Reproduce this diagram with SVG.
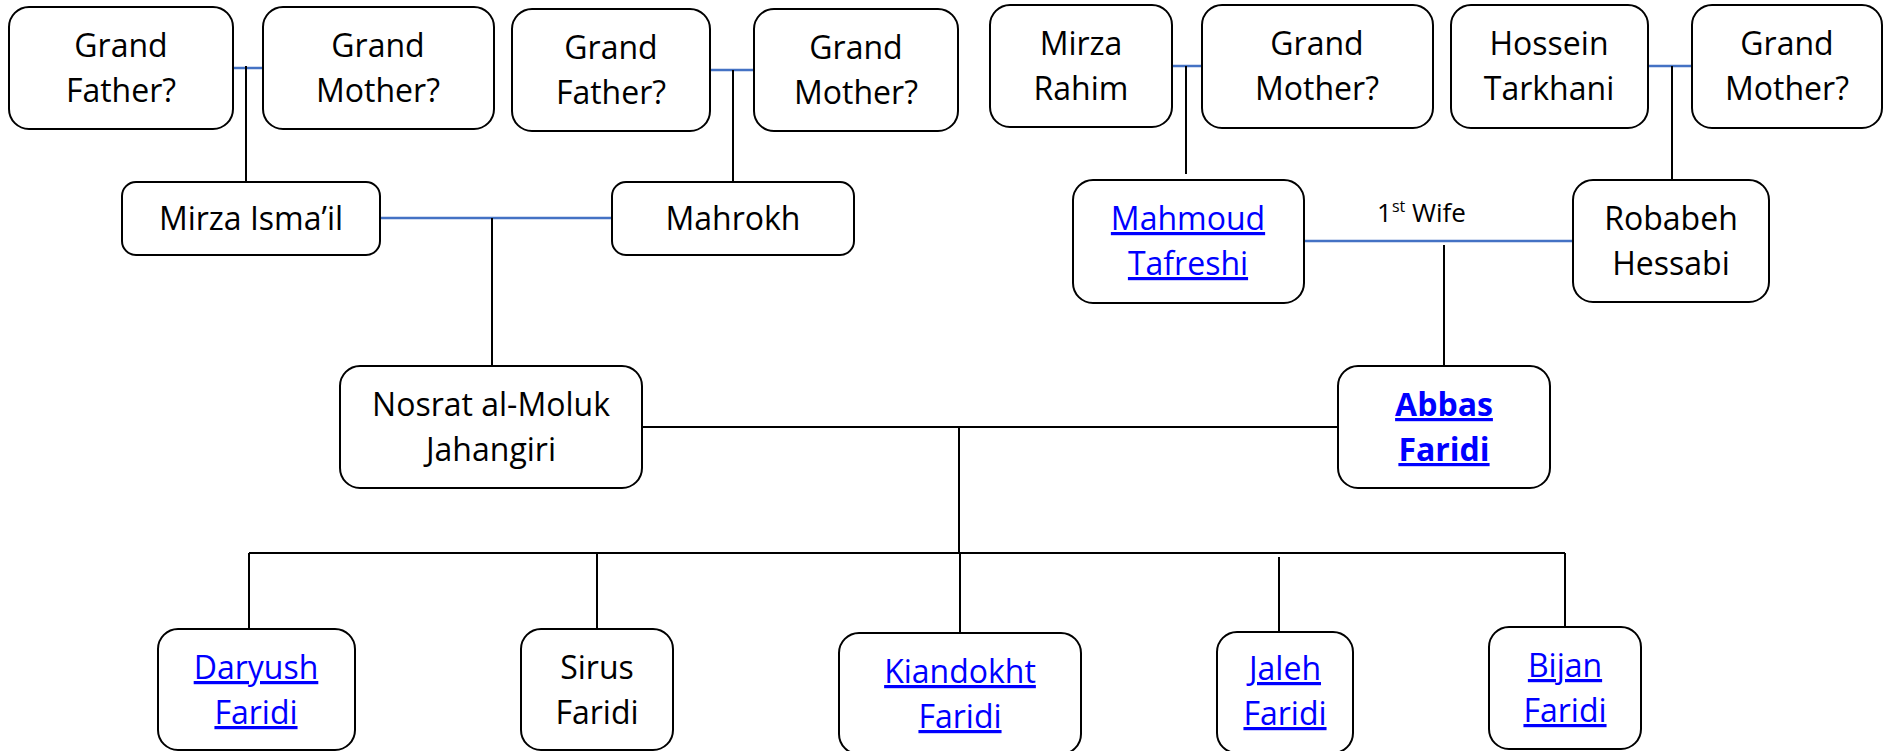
<svg xmlns="http://www.w3.org/2000/svg" width="1884" height="751" viewBox="0 0 1884 751">
<style>
.box{fill:#fff;stroke:#000;stroke-width:2}
.t{font-family:"Open Sans","Liberation Sans",sans-serif;font-size:32px;fill:#000;text-anchor:middle}
.lnk{fill:#0000ff;text-decoration:underline}
.b{font-weight:700}
.mar{stroke:#4472c4;stroke-width:2.5;fill:none}
.kid{stroke:#000;stroke-width:2;fill:none}
.lbl{font-family:"Open Sans","Liberation Sans",sans-serif;font-size:26px;fill:#000}
</style>
<rect width="1884" height="751" fill="#fff"/>
<g id="connectors">
<line class="mar" x1="233" y1="68" x2="263" y2="68"/>
<line class="mar" x1="710" y1="70" x2="754" y2="70"/>
<line class="mar" x1="1172" y1="66" x2="1202" y2="66"/>
<line class="mar" x1="1648" y1="66" x2="1692" y2="66"/>
<line class="mar" x1="380" y1="218" x2="612" y2="218"/>
<line class="mar" x1="1304" y1="241" x2="1573" y2="241"/>
<line class="kid" x1="246" y1="66" x2="246" y2="182"/>
<line class="kid" x1="733" y1="70" x2="733" y2="182"/>
<line class="kid" x1="1186" y1="66" x2="1186" y2="174"/>
<line class="kid" x1="1672" y1="66" x2="1672" y2="180"/>
<line class="kid" x1="492" y1="218" x2="492" y2="366"/>
<line class="kid" x1="1444" y1="245" x2="1444" y2="366"/>
<line class="kid" x1="642" y1="427" x2="1338" y2="427"/>
<line class="kid" x1="959" y1="427" x2="959" y2="553"/>
<line class="kid" x1="249" y1="553" x2="1565" y2="553"/>
<line class="kid" x1="249" y1="553" x2="249" y2="629"/>
<line class="kid" x1="597" y1="553" x2="597" y2="629"/>
<line class="kid" x1="960" y1="553" x2="960" y2="633"/>
<line class="kid" x1="1279" y1="557" x2="1279" y2="632"/>
<line class="kid" x1="1565" y1="553" x2="1565" y2="627"/>
<text class="lbl" x="1377" y="222">1<tspan font-size="16" dy="-10">st</tspan><tspan dy="10"> Wife</tspan></text>
</g>
<g id="gf1"><rect class="box" x="9" y="7" width="224" height="122" rx="20"/><text class="t" x="121" y="57">Grand</text><text class="t" x="121" y="102">Father?</text></g>
<g id="gm1"><rect class="box" x="263" y="7" width="231" height="122" rx="20"/><text class="t" x="378" y="57">Grand</text><text class="t" x="378" y="102">Mother?</text></g>
<g id="gf2"><rect class="box" x="512" y="9" width="198" height="122" rx="20"/><text class="t" x="611" y="59">Grand</text><text class="t" x="611" y="104">Father?</text></g>
<g id="gm2"><rect class="box" x="754" y="9" width="204" height="122" rx="20"/><text class="t" x="856" y="59">Grand</text><text class="t" x="856" y="104">Mother?</text></g>
<g id="mirza-rahim"><rect class="box" x="990" y="5" width="182" height="122" rx="20"/><text class="t" x="1081" y="55">Mirza</text><text class="t" x="1081" y="100">Rahim</text></g>
<g id="gm3"><rect class="box" x="1202" y="5" width="231" height="123" rx="20"/><text class="t" x="1317" y="55">Grand</text><text class="t" x="1317" y="100">Mother?</text></g>
<g id="hossein"><rect class="box" x="1451" y="5" width="197" height="123" rx="20"/><text class="t" x="1549" y="55">Hossein</text><text class="t" x="1549" y="100">Tarkhani</text></g>
<g id="gm4"><rect class="box" x="1692" y="5" width="190" height="123" rx="20"/><text class="t" x="1787" y="55">Grand</text><text class="t" x="1787" y="100">Mother?</text></g>
<g id="mirza-ismail"><rect class="box" x="122" y="182" width="258" height="73" rx="14"/><text class="t" x="251" y="230">Mirza Isma’il</text></g>
<g id="mahrokh"><rect class="box" x="612" y="182" width="242" height="73" rx="14"/><text class="t" x="733" y="230">Mahrokh</text></g>
<g id="mahmoud"><rect class="box" x="1073" y="180" width="231" height="123" rx="20"/><text class="t lnk" x="1188" y="230">Mahmoud</text><text class="t lnk" x="1188" y="275">Tafreshi</text></g>
<g id="robabeh"><rect class="box" x="1573" y="180" width="196" height="122" rx="20"/><text class="t" x="1671" y="230">Robabeh</text><text class="t" x="1671" y="275">Hessabi</text></g>
<g id="nosrat"><rect class="box" x="340" y="366" width="302" height="122" rx="20"/><text class="t" x="491" y="416">Nosrat al-Moluk</text><text class="t" x="491" y="461">Jahangiri</text></g>
<g id="abbas"><rect class="box" x="1338" y="366" width="212" height="122" rx="20"/><text class="t lnk b" x="1444" y="416">Abbas</text><text class="t lnk b" x="1444" y="461">Faridi</text></g>
<g id="daryush"><rect class="box" x="158" y="629" width="197" height="121" rx="20"/><text class="t lnk" x="256" y="679">Daryush</text><text class="t lnk" x="256" y="724">Faridi</text></g>
<g id="sirus"><rect class="box" x="521" y="629" width="152" height="121" rx="20"/><text class="t" x="597" y="679">Sirus</text><text class="t" x="597" y="724">Faridi</text></g>
<g id="kiandokht"><rect class="box" x="839" y="633" width="242" height="121" rx="20"/><text class="t lnk" x="960" y="683">Kiandokht</text><text class="t lnk" x="960" y="728">Faridi</text></g>
<g id="jaleh"><rect class="box" x="1217" y="632" width="136" height="121" rx="20"/><text class="t lnk" x="1285" y="680">Jaleh</text><text class="t lnk" x="1285" y="725">Faridi</text></g>
<g id="bijan"><rect class="box" x="1489" y="627" width="152" height="122" rx="20"/><text class="t lnk" x="1565" y="677">Bijan</text><text class="t lnk" x="1565" y="722">Faridi</text></g>
</svg>
